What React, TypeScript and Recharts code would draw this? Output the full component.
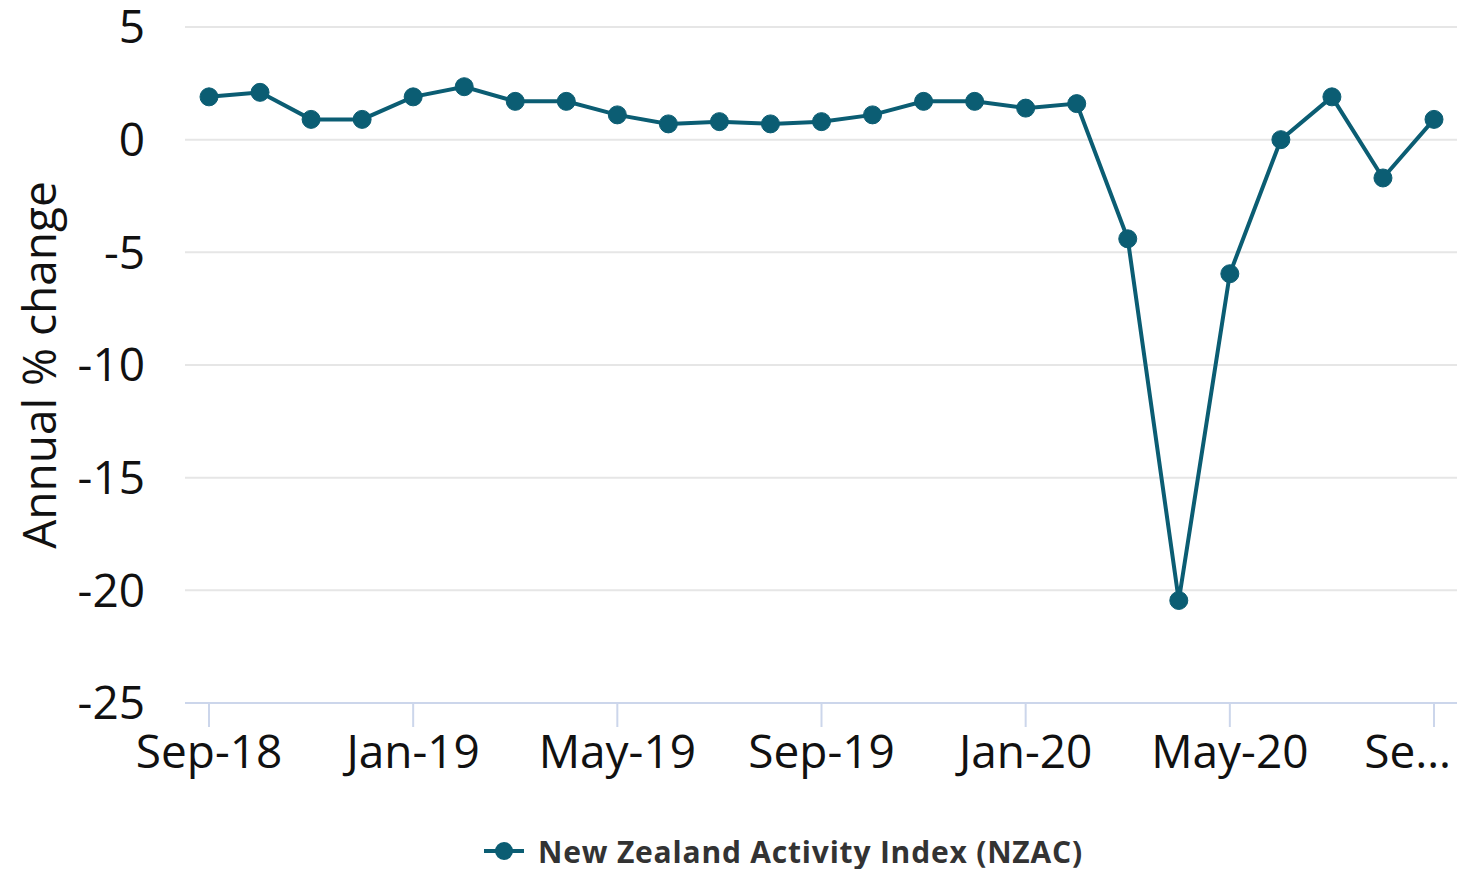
import { LineChart, Line, XAxis, YAxis, CartesianGrid, Legend } from 'recharts';

const months = [
  'Sep-18', 'Oct-18', 'Nov-18', 'Dec-18', 'Jan-19', 'Feb-19', 'Mar-19', 'Apr-19', 'May-19',
  'Jun-19', 'Jul-19', 'Aug-19', 'Sep-19', 'Oct-19', 'Nov-19', 'Dec-19', 'Jan-20', 'Feb-20',
  'Mar-20', 'Apr-20', 'May-20', 'Jun-20', 'Jul-20', 'Aug-20', 'Sep-20',
];
const nzac = [
  1.9, 2.1, 0.9, 0.9, 1.9, 2.35, 1.7, 1.7, 1.1, 0.7, 0.8, 0.7, 0.8, 1.1, 1.7, 1.7, 1.4, 1.6,
  -4.4, -20.45, -5.95, 0.0, 1.9, -1.7, 0.9,
];
const yTicks = [-25, -20, -15, -10, -5, 0, 5];
const seriesName = 'New Zealand Activity Index (NZAC)';

const data = months.map((m, i) => ({ month: m, nzac: nzac[i] }));

const COLOR = '#0b5d73';
const FONT = '"Open Sans", "Noto Sans", sans-serif';
const TICK_FONT = 46;

const MonthTick = (props: any) => {
  const { x, y, payload, index } = props;
  const isLast = payload.value === months[months.length - 1];
  const text = isLast ? payload.value.slice(0, 2) + '…' : payload.value;
  return (
    <text
      x={isLast ? x + 17 : x}
      y={y}
      dy="0.71em"
      textAnchor={isLast ? 'end' : 'middle'}
      fontSize={TICK_FONT}
      fontFamily={FONT}
      fill="#111"
      key={index}
    >
      {text}
    </text>
  );
};

const YLabel = (props: any) => {
  const { viewBox } = props;
  const cx = viewBox.x + 38;
  const cy = viewBox.y + viewBox.height / 2;
  return (
    <text
      x={cx}
      y={cy}
      transform={`rotate(-90, ${cx}, ${cy})`}
      textAnchor="middle"
      dominantBaseline="central"
      fontSize={TICK_FONT}
      fontFamily={FONT}
      fill="#111"
    >
      Annual % change
    </text>
  );
};

const LegendContent = () => (
  <div
    style={{
      height: 50,
      display: 'flex',
      justifyContent: 'center',
      alignItems: 'center',
      paddingTop: 14,
      paddingLeft: 110,
      boxSizing: 'border-box',
      fontFamily: FONT,
      fontWeight: 700,
      fontSize: 30,
      letterSpacing: 0.8,
      color: '#333',
    }}
  >
    <svg width={40} height={20} style={{ marginRight: 14 }}>
      <line x1={0} y1={10} x2={40} y2={10} stroke={COLOR} strokeWidth={4} />
      <circle cx={20} cy={10} r={9} fill={COLOR} />
    </svg>
    <span>{seriesName}</span>
  </div>
);

const App = () => {
  return (
    <div style={{ position: 'absolute', left: 0, top: 0, background: '#fff' }}>
      <LineChart
        width={1457}
        height={869}
        data={data}
        margin={{ top: 27, right: 0, bottom: 0, left: 0 }}
      >
        <CartesianGrid vertical={false} stroke="#e6e6e6" strokeWidth={2} />
        <XAxis
          dataKey="month"
          interval={3}
          height={116}
          padding={{ left: 24, right: 23 }}
          axisLine={{ stroke: '#ccd6eb', strokeWidth: 2 }}
          tickLine={{ stroke: '#ccd6eb', strokeWidth: 2 }}
          tickSize={24}
          tickMargin={8}
          tick={<MonthTick />}
        />
        <YAxis
          domain={[-25, 5]}
          ticks={yTicks}
          width={185}
          axisLine={false}
          tickLine={false}
          tickSize={0}
          tickMargin={40}
          tick={{ fontSize: TICK_FONT, fontFamily: FONT, fill: '#111' }}
          label={<YLabel />}
        />
        <Legend verticalAlign="bottom" content={<LegendContent />} />
        <Line
          type="linear"
          dataKey="nzac"
          name={seriesName}
          stroke={COLOR}
          strokeWidth={4}
          dot={{ r: 9, fill: COLOR, stroke: COLOR, strokeWidth: 1 }}
          activeDot={false}
          isAnimationActive={false}
        />
      </LineChart>
    </div>
  );
};

export default App;
